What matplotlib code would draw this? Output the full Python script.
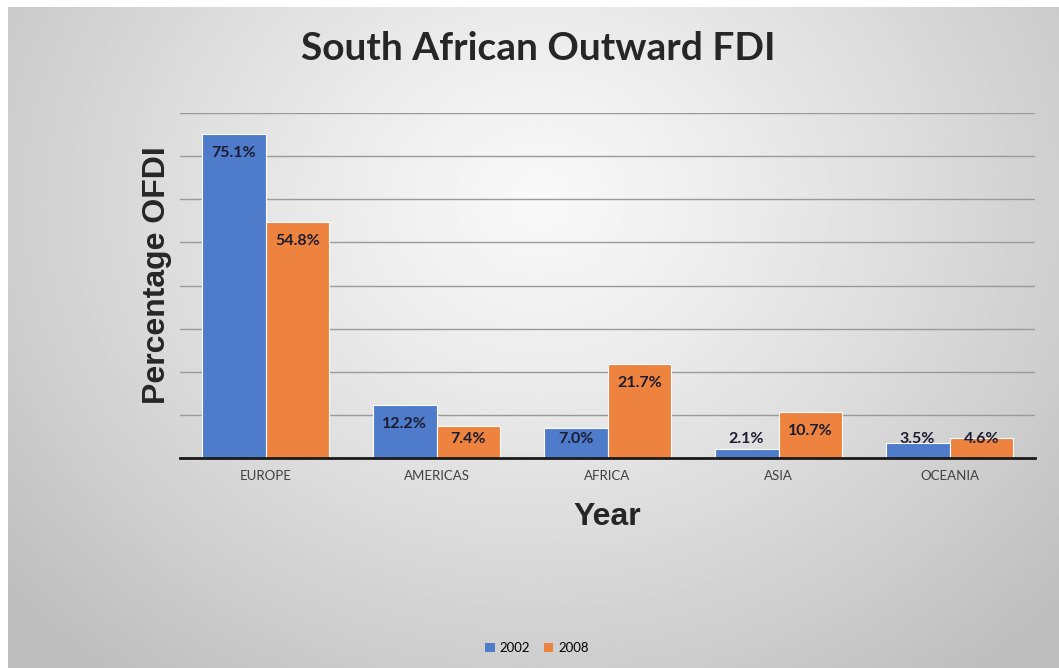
import numpy as np
import matplotlib
matplotlib.use("Agg")
import matplotlib.pyplot as plt
from matplotlib.patches import Patch

regions = ["EUROPE", "AMERICAS", "AFRICA", "ASIA", "OCEANIA"]
series_names = ["2002", "2008"]
ofdi_2002 = [75.1, 12.2, 7.0, 2.1, 3.5]
ofdi_2008 = [54.8, 7.4, 21.7, 10.7, 4.6]
colors = ["#4F7BCB", "#EE8340"]

W, H = 1059, 668
fig = plt.figure(figsize=(W / 100, H / 100), dpi=100)
fig.patch.set_facecolor("white")

# radial grey-to-white backdrop for the chart area
bg = fig.add_axes([8 / W, 0, 1 - 8 / W, 1 - 7 / H])
bg.set_axis_off()
gx, gy = np.meshgrid(np.linspace(8, W, 400), np.linspace(7, H, 300))
r = np.sqrt(((gx - 540) / 620) ** 2 + ((gy - 200) / 540) ** 2)
shade = np.clip(0.975 - 0.2 * r ** 1.2, 0.74, 1.0)
bg.imshow(shade, cmap="gray", vmin=0, vmax=1, aspect="auto",
          extent=[0, 1, 0, 1], origin="upper", interpolation="bilinear")
bg.set_xlim(0, 1)
bg.set_ylim(0, 1)

ax = fig.add_axes([180 / W, 1 - 458 / H, (1035 - 180) / W, (458 - 113) / H])
ax.set_facecolor("none")
x = np.arange(len(regions))
bw = 0.374
for i, (vals, c) in enumerate(zip([ofdi_2002, ofdi_2008], colors)):
    pos = x + (i - 0.5) * bw
    ax.bar(pos, vals, width=bw, color=c, edgecolor="white", linewidth=0.8, zorder=3)
    for p, v in zip(pos, vals):
        ax.text(p, max(v - 4.4, 4.4), f"{v:.1f}%", ha="center", va="center",
                fontsize=11.5, fontweight="bold", color="#1c1c30",
                family=["Lato", "DejaVu Sans"], zorder=4)

ax.set_xlim(-0.5, len(regions) - 0.5)
ax.set_ylim(0, 80)
ax.set_yticks(np.arange(0, 81, 10))
ax.yaxis.grid(True, color="#9a9a9a", linewidth=1.0, zorder=0)
ax.tick_params(axis="y", left=False, labelleft=False)
ax.tick_params(axis="x", length=0, pad=9)
ax.set_xticks(x)
ax.set_xticklabels(regions, fontsize=9.5, color="#404040", family=["Lato", "DejaVu Sans"])
for s in ["top", "right", "left"]:
    ax.spines[s].set_visible(False)
ax.spines["bottom"].set_color("#1a1a1a")
ax.spines["bottom"].set_linewidth(2)
ax.spines["bottom"].set_zorder(5)

fig.text(538 / W, 1 - 48 / H, "South African Outward FDI", ha="center", va="center",
         fontsize=28, fontweight="bold", color="#262626", family=["Lato", "DejaVu Sans"])
fig.text(157 / W, 1 - 275 / H, "Percentage OFDI", ha="center", va="center", rotation=90,
         fontsize=23, fontweight="bold", color="#262626",
         family=["Liberation Sans", "DejaVu Sans"])
fig.text(607 / W, 1 - 517 / H, "Year", ha="center", va="center",
         fontsize=23, fontweight="bold", color="#262626",
         family=["Liberation Sans", "DejaVu Sans"])

handles = [Patch(facecolor=c, edgecolor="none") for c in colors]
fig.legend(handles, series_names, loc="center", bbox_to_anchor=(537 / W, 1 - 648 / H),
           ncol=2, frameon=False, handlelength=0.7, handleheight=0.7,
           handletextpad=0.4, columnspacing=1.0,
           prop={"family": ["Lato", "DejaVu Sans"], "size": 9.5})

fig.savefig("out.png", dpi=100)
